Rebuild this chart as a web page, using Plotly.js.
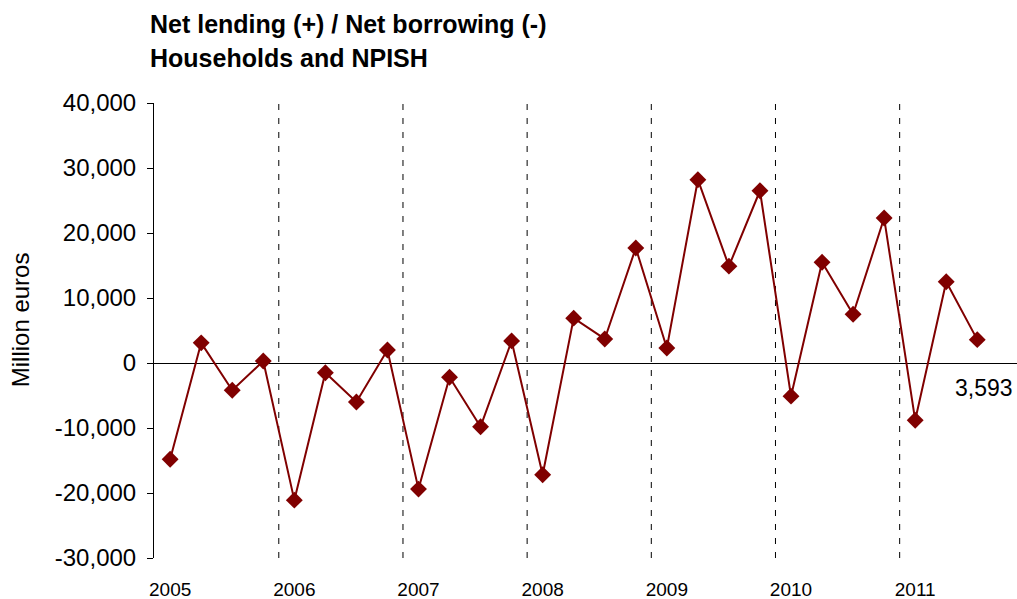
<!DOCTYPE html>
<html>
<head>
<meta charset="utf-8">
<script src="https://cdn.plot.ly/plotly-3.0.1.min.js"></script>
<style>html,body{margin:0;padding:0;background:#fff;}#chart{width:1017px;height:599px;}</style>
</head>
<body>
<div id="chart"></div>
<script>
// Quarterly data 2005Q1 .. 2011Q3, million euros
const quarters = ["2005Q1","2005Q2","2005Q3","2005Q4","2006Q1","2006Q2","2006Q3","2006Q4",
  "2007Q1","2007Q2","2007Q3","2007Q4","2008Q1","2008Q2","2008Q3","2008Q4",
  "2009Q1","2009Q2","2009Q3","2009Q4","2010Q1","2010Q2","2010Q3","2010Q4",
  "2011Q1","2011Q2","2011Q3"];
const netLending = [-14800, 3100, -4200, 300, -21100, -1500, -6000, 2000,
  -19400, -2200, -9800, 3400, -17200, 6900, 3700, 17700,
  2300, 28200, 14900, 26500, -5100, 15500, 7500, 22300,
  -8800, 12500, 3593];
const yearLabels = ["2005","2006","2007","2008","2009","2010","2011"];
const yearTickIdx = [0, 4, 8, 12, 16, 20, 24];
const yearBoundaries = [3.5, 7.5, 11.5, 15.5, 19.5, 23.5];
const yTickVals = [-30000, -20000, -10000, 0, 10000, 20000, 30000, 40000];
const yTickText = ["-30,000", "-20,000", "-10,000", "0", "10,000", "20,000", "30,000", "40,000"];

const FONT = "Liberation Sans, Arial, sans-serif";
const idx = quarters.map((q, i) => i);
const lastI = netLending.length - 1;

const trace = {
  x: idx, y: netLending, type: "scatter", mode: "lines+markers",
  line: {color: "#800000", width: 2},
  marker: {symbol: "diamond", size: 13, color: "#800000"},
  text: quarters, hoverinfo: "text+y"
};

const shapes = yearBoundaries.map(b => ({
  type: "line", xref: "x", yref: "y", x0: b, x1: b, y0: -30000, y1: 40000,
  line: {color: "#000", width: 1, dash: "6px,8px"}, layer: "below"
}));

const layout = {
  width: 1017, height: 599,
  margin: {l: 154, r: 0, t: 103, b: 41},
  paper_bgcolor: "#fff", plot_bgcolor: "#fff",
  showlegend: false,
  font: {family: FONT, color: "#000"},
  xaxis: {
    range: [-0.52, 27.28], showgrid: false, zeroline: false, showline: false,
    tickmode: "array", tickvals: yearTickIdx, ticktext: yearLabels,
    ticks: "", ticklabelstandoff: 18, tickfont: {family: FONT, size: 19, color: "#000"}
  },
  yaxis: {
    range: [-30000, 40000], tickmode: "array", tickvals: yTickVals, ticktext: yTickText,
    showgrid: false, showline: true, linecolor: "#000", linewidth: 1,
    ticks: "outside", ticklen: 6, tickcolor: "#000", ticklabelstandoff: 6,
    zeroline: true, zerolinecolor: "#000", zerolinewidth: 1,
    tickfont: {family: FONT, size: 24, color: "#000"}
  },
  shapes: shapes,
  annotations: [
    {xref: "paper", yref: "paper", x: -0.0075, y: 1.1736, xanchor: "left", yanchor: "middle",
     text: "<b>Net lending (+) / Net borrowing (-)</b>", showarrow: false,
     font: {family: FONT, size: 25, color: "#000"}},
    {xref: "paper", yref: "paper", x: -0.0075, y: 1.0989, xanchor: "left", yanchor: "middle",
     text: "<b>Households and NPISH</b>", showarrow: false,
     font: {family: FONT, size: 25, color: "#000"}},
    {xref: "paper", yref: "paper", x: -0.155, y: 0.523, xanchor: "center", yanchor: "middle",
     text: "Million euros", textangle: -90, showarrow: false,
     font: {family: FONT, size: 24, color: "#000"}},
    {xref: "x", yref: "y", x: lastI, y: netLending[lastI], xanchor: "center", yanchor: "middle",
     xshift: 7, yshift: -48, text: netLending[lastI].toLocaleString("en-US"), showarrow: false,
     font: {family: FONT, size: 23, color: "#000"}}
  ]
};

Plotly.newPlot("chart", [trace], layout, {displayModeBar: false, staticPlot: true});
</script>
</body>
</html>
